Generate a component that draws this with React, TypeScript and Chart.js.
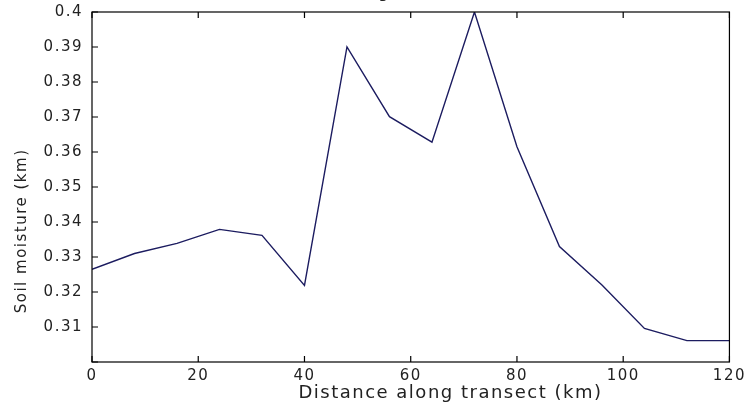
import React, { useEffect, useRef } from "react";
import { Chart, registerables } from "chart.js";

Chart.register(...registerables);

const DISTANCE_KM = [0, 8, 16, 24, 32, 40, 48, 56, 64, 72, 80, 88, 96, 104, 112, 120];
const SOIL_MOISTURE = [
  0.3265, 0.331, 0.3339, 0.3379, 0.3362, 0.3219, 0.39, 0.3701, 0.3628, 0.4,
  0.3615, 0.333, 0.322, 0.3096, 0.3061, 0.3061,
];
const TITLE = "Soil moisture along transect (km)";
const X_LABEL = "Distance along transect (km)";
const Y_LABEL = "Soil moisture (km)";

const OFF = 20;
const FONT = "'DejaVu Sans', Verdana, sans-serif";
// the reference's axis labels sit off-centre; blank padding shifts them
const X_LABEL_SHIFT = " ".repeat(11);
const Y_LABEL_SHIFT = " ".repeat(14);

const spacingPlugin = {
  id: "spacing",
  beforeUpdate(chart: any) {
    chart.ctx.letterSpacing = "1.5px";
  },
  beforeDraw(chart: any) {
    chart.ctx.letterSpacing = "1.5px";
  },
};

const boxPlugin = {
  id: "box",
  afterDraw(chart: any) {
    const { ctx, chartArea } = chart;
    const { left, right, top, bottom } = chartArea;
    ctx.save();
    ctx.strokeStyle = "#000";
    ctx.lineWidth = 1.2;
    ctx.strokeRect(left, top, right - left, bottom - top);
    const xs = chart.scales.x;
    const ys = chart.scales.y;
    const L = 6;
    ctx.beginPath();
    xs.ticks.forEach((t: any) => {
      const px = xs.getPixelForValue(t.value);
      ctx.moveTo(px, bottom);
      ctx.lineTo(px, bottom - L);
      ctx.moveTo(px, top);
      ctx.lineTo(px, top + L);
    });
    ys.ticks.forEach((t: any) => {
      const py = ys.getPixelForValue(t.value);
      ctx.moveTo(left, py);
      ctx.lineTo(left + L, py);
    });
    ctx.stroke();
    ctx.restore();
  },
};

export default function App() {
  const ref = useRef<HTMLCanvasElement>(null);
  useEffect(() => {
    if (!ref.current) return;
    const chart = new Chart(ref.current, {
      type: "line",
      data: {
        datasets: [
          {
            data: DISTANCE_KM.map((x, i) => ({ x, y: SOIL_MOISTURE[i] })),
            borderColor: "#1c1c60",
            borderWidth: 1.4,
            pointRadius: 0,
            tension: 0,
            fill: false,
          },
        ],
      },
      options: {
        animation: false,
        responsive: true,
        maintainAspectRatio: false,
        layout: { padding: { left: 0, right: 21, top: 0, bottom: 0 } },
        plugins: {
          legend: { display: false },
          tooltip: { enabled: false },
          title: {
            display: true,
            text: TITLE,
            color: "#222",
            font: { family: FONT, size: 17, weight: "normal" },
            padding: { top: 2, bottom: 9.6 },
          },
        },
        scales: {
          x: {
            type: "linear",
            min: 0,
            max: 120,
            grid: { display: false, drawTicks: false },
            border: { display: false },
            ticks: {
              stepSize: 20,
              autoSkip: false,
              maxRotation: 0,
              padding: 5,
              color: "#222",
              font: { family: FONT, size: 15 },
            },
            title: {
              display: true,
              text: X_LABEL_SHIFT + X_LABEL,
              color: "#222",
              font: { family: FONT, size: 18 },
              padding: { top: 0, bottom: 2 },
            },
            afterFit: (s: any) => {
              s.height = 44;
            },
          },
          y: {
            type: "linear",
            min: 0.3,
            max: 0.4,
            grid: { display: false, drawTicks: false },
            border: { display: false },
            ticks: {
              stepSize: 0.01,
              padding: 9,
              color: "#222",
              font: { family: FONT, size: 15 },
              callback: (v: any) =>
                Math.abs(Number(v) - 0.3) < 1e-6 ? "" : String(+Number(v).toFixed(2)),
            },
            title: {
              display: true,
              text: Y_LABEL + Y_LABEL_SHIFT,
              color: "#222",
              font: { family: FONT, size: 15 },
              padding: { top: 13, bottom: 0 },
            },
            afterFit: (s: any) => {
              s.width = 92;
            },
          },
        },
      },
      plugins: [spacingPlugin, boxPlugin],
    });
    return () => chart.destroy();
  }, []);
  return (
    <div
      style={{
        position: "fixed",
        left: 0,
        top: 0,
        width: 751,
        height: 406,
        overflow: "hidden",
        background: "#fff",
      }}
    >
      <div style={{ position: "absolute", left: 0, top: -OFF, width: 751, height: 406 + OFF }}>
        <canvas ref={ref} />
      </div>
    </div>
  );
}
